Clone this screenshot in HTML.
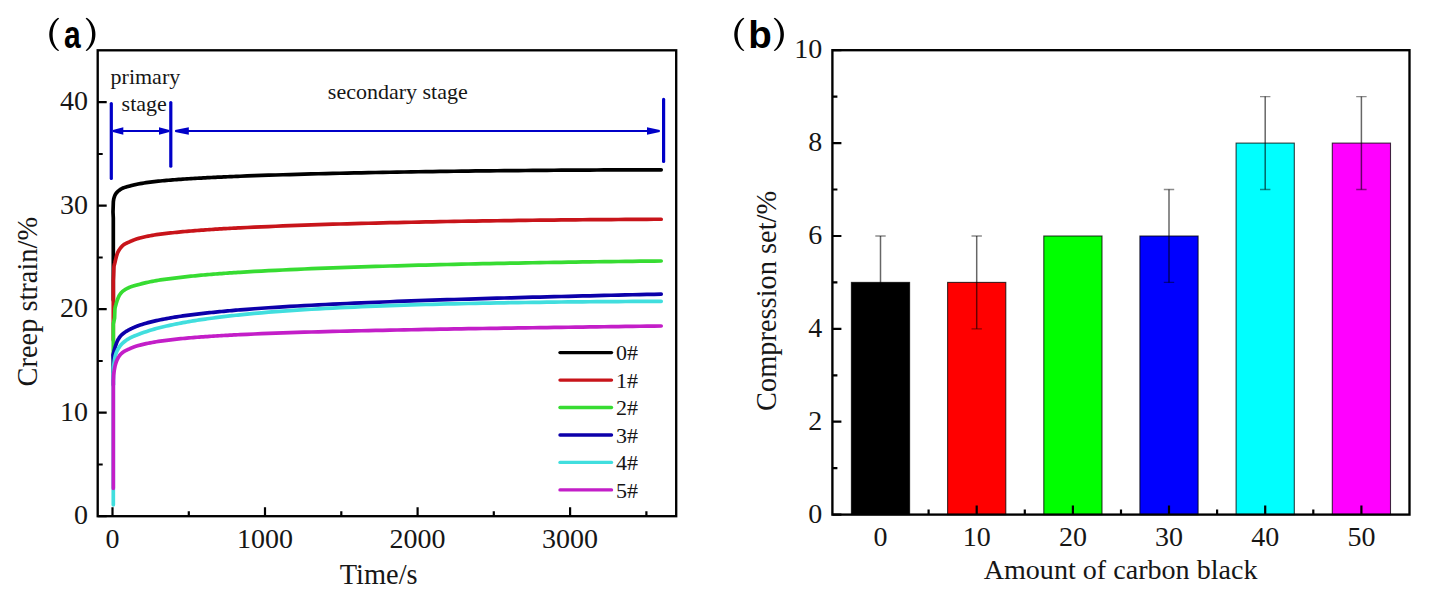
<!DOCTYPE html>
<html><head><meta charset="utf-8"><style>
html,body{margin:0;padding:0;background:#fff;}
body{width:1434px;height:598px;overflow:hidden;}
svg{display:block;}
.serif{font-family:"Liberation Serif",serif;fill:#161616;}
.sans{font-family:"Liberation Sans",sans-serif;fill:#000;}
</style></head><body>
<svg width="1434" height="598" viewBox="0 0 1434 598">
<rect width="1434" height="598" fill="#fff"/>
<path d="M58.00,17.7 C46.40,25.38 46.40,43.42 58.00,51.1 L59.20,50.40 C50.53,43.42 50.53,25.38 59.20,18.40 Z" fill="#000"/>
<path d="M86.80,17.7 C98.40,25.38 98.40,43.42 86.80,51.1 L85.60,50.40 C94.27,43.42 94.27,25.38 85.60,18.40 Z" fill="#000"/>
<text class="sans" transform="translate(72.3,48.0) scale(0.79,1)" x="0" y="0" font-size="38" font-weight="bold" text-anchor="middle">a</text>
<path d="M743.20,17.7 C731.33,25.38 731.33,43.42 743.20,51.1 L744.40,50.40 C735.47,43.42 735.47,25.38 744.40,18.40 Z" fill="#000"/>
<path d="M774.90,17.7 C786.90,25.38 786.90,43.42 774.90,51.1 L773.70,50.40 C782.77,43.42 782.77,25.38 773.70,18.40 Z" fill="#000"/>
<text class="sans" transform="translate(760.0,47.8)" x="0" y="0" font-size="38.5" font-weight="bold" text-anchor="middle">b</text>
<g stroke="#0000C8" stroke-width="3.2" fill="none" stroke-linecap="round">
<line x1="111.3" y1="103.5" x2="111.3" y2="178.5"/>
<line x1="170.8" y1="102.6" x2="170.8" y2="166.2"/>
<line x1="663.6" y1="99.4" x2="663.6" y2="161.4"/>
</g>
<g stroke="#0000C8" stroke-width="2" fill="none">
<line x1="118" y1="131" x2="164" y2="131"/>
<line x1="180" y1="131" x2="652" y2="131"/>
</g>
<path d="M112.9,129.9 L123.3,127.2 L123.3,134.8 L112.9,132.1 Z" fill="#0000C8"/>
<path d="M169.3,129.9 L159.0,127.2 L159.0,134.8 L169.3,132.1 Z" fill="#0000C8"/>
<path d="M175.1,129.9 L188.8,127.2 L188.8,134.8 L175.1,132.1 Z" fill="#0000C8"/>
<path d="M659.8,129.9 L647.0,127.2 L647.0,134.8 L659.8,132.1 Z" fill="#0000C8"/>
<path d="M113.30,300.0 L113.30,218.0 L113.00,212.00 L113.34,201.69 L113.68,199.22 L114.03,197.83 L114.37,196.80 L114.71,195.88 L115.05,195.10 L115.39,194.45 L115.73,193.89 L116.08,193.40 L116.42,192.95 L116.76,192.54 L117.10,192.17 L117.44,191.83 L117.78,191.51 L118.13,191.21 L118.47,190.92 L118.81,190.65 L119.15,190.38 L119.49,190.12 L119.84,189.87 L120.18,189.62 L120.52,189.38 L120.86,189.16 L121.20,188.94 L121.54,188.73 L121.89,188.54 L122.23,188.36 L122.57,188.19 L122.91,188.04 L123.25,187.90 L123.59,187.77 L123.94,187.64 L124.28,187.53 L124.62,187.41 L124.96,187.31 L125.30,187.20 L125.65,187.11 L125.99,187.01 L126.33,186.92 L126.67,186.83 L127.01,186.74 L127.35,186.65 L127.70,186.57 L128.04,186.48 L128.38,186.39 L128.72,186.30 L129.06,186.21 L129.41,186.12 L129.75,186.03 L130.09,185.93 L130.43,185.84 L130.77,185.75 L131.11,185.66 L131.46,185.57 L131.80,185.48 L132.14,185.39 L132.48,185.31 L132.82,185.22 L133.16,185.14 L133.51,185.05 L133.85,184.97 L134.19,184.88 L134.53,184.80 L134.87,184.72 L135.22,184.64 L135.56,184.57 L135.90,184.49 L136.24,184.42 L136.58,184.34 L136.92,184.27 L137.27,184.20 L137.61,184.13 L137.95,184.06 L138.29,183.99 L138.63,183.93 L138.97,183.86 L139.32,183.80 L139.66,183.74 L140.00,183.67 L142.04,183.33 L144.08,183.00 L146.12,182.68 L148.16,182.39 L150.20,182.12 L152.24,181.86 L154.29,181.62 L156.33,181.39 L158.37,181.17 L160.41,180.97 L162.45,180.77 L164.49,180.58 L166.53,180.40 L168.57,180.22 L170.61,180.05 L172.65,179.89 L174.69,179.73 L176.73,179.57 L178.78,179.43 L180.82,179.29 L182.86,179.15 L184.90,179.01 L186.94,178.88 L188.98,178.75 L191.02,178.63 L193.06,178.50 L195.10,178.38 L197.14,178.26 L199.18,178.15 L201.22,178.03 L203.27,177.92 L205.31,177.82 L207.35,177.71 L209.39,177.61 L211.43,177.51 L213.47,177.41 L215.51,177.32 L217.55,177.22 L219.59,177.12 L221.63,177.03 L223.67,176.94 L225.71,176.85 L227.76,176.76 L229.80,176.67 L231.84,176.58 L233.88,176.50 L235.92,176.41 L237.96,176.33 L240.00,176.25 L247.14,175.97 L254.28,175.71 L261.42,175.46 L268.56,175.22 L275.69,174.99 L282.83,174.77 L289.97,174.55 L297.11,174.34 L304.25,174.14 L311.39,173.95 L318.53,173.76 L325.67,173.58 L332.81,173.41 L339.95,173.24 L347.08,173.08 L354.22,172.93 L361.36,172.78 L368.50,172.63 L375.64,172.49 L382.78,172.36 L389.92,172.23 L397.06,172.10 L404.20,171.98 L411.34,171.86 L418.47,171.74 L425.61,171.63 L432.75,171.53 L439.89,171.43 L447.03,171.33 L454.17,171.23 L461.31,171.14 L468.45,171.05 L475.59,170.97 L482.73,170.89 L489.86,170.82 L497.00,170.75 L504.14,170.68 L511.28,170.61 L518.42,170.54 L525.56,170.48 L532.70,170.42 L539.84,170.36 L546.98,170.30 L554.12,170.25 L561.25,170.20 L568.39,170.15 L575.53,170.11 L582.67,170.07 L589.81,170.04 L596.95,170.00 L604.09,169.97 L611.23,169.94 L618.37,169.91 L625.51,169.88 L632.64,169.85 L639.78,169.83 L646.92,169.81 L654.06,169.79 L661.20,169.78" fill="none" stroke="#000000" stroke-width="3.7" stroke-linejoin="round" stroke-linecap="round"/>
<path d="M113.30,340.0 L113.30,281.0 L113.60,275.00 L113.93,266.79 L114.27,264.94 L114.60,263.85 L114.94,262.49 L115.27,261.03 L115.61,259.64 L115.94,258.33 L116.27,257.08 L116.61,255.85 L116.94,254.69 L117.28,253.67 L117.61,252.85 L117.94,252.11 L118.28,251.44 L118.61,250.81 L118.95,250.23 L119.28,249.69 L119.62,249.19 L119.95,248.72 L120.28,248.27 L120.62,247.85 L120.95,247.45 L121.29,247.06 L121.62,246.69 L121.95,246.34 L122.29,246.00 L122.62,245.68 L122.96,245.38 L123.29,245.10 L123.63,244.84 L123.96,244.60 L124.29,244.37 L124.63,244.16 L124.96,243.96 L125.30,243.77 L125.63,243.59 L125.96,243.42 L126.30,243.26 L126.63,243.10 L126.97,242.95 L127.30,242.80 L127.64,242.65 L127.97,242.50 L128.30,242.36 L128.64,242.21 L128.97,242.06 L129.31,241.91 L129.64,241.75 L129.97,241.60 L130.31,241.45 L130.64,241.30 L130.98,241.15 L131.31,241.00 L131.65,240.85 L131.98,240.71 L132.31,240.56 L132.65,240.42 L132.98,240.28 L133.32,240.15 L133.65,240.02 L133.98,239.88 L134.32,239.76 L134.65,239.63 L134.99,239.51 L135.32,239.39 L135.66,239.28 L135.99,239.17 L136.32,239.06 L136.66,238.95 L136.99,238.84 L137.33,238.74 L137.66,238.64 L137.99,238.54 L138.33,238.44 L138.66,238.34 L139.00,238.25 L139.33,238.15 L139.67,238.06 L140.00,237.98 L142.04,237.46 L144.08,236.98 L146.12,236.53 L148.16,236.11 L150.20,235.72 L152.24,235.35 L154.29,235.00 L156.33,234.67 L158.37,234.38 L160.41,234.11 L162.45,233.87 L164.49,233.62 L166.53,233.39 L168.57,233.16 L170.61,232.94 L172.65,232.72 L174.69,232.51 L176.73,232.30 L178.78,232.10 L180.82,231.91 L182.86,231.71 L184.90,231.53 L186.94,231.35 L188.98,231.17 L191.02,231.00 L193.06,230.83 L195.10,230.67 L197.14,230.51 L199.18,230.35 L201.22,230.20 L203.27,230.05 L205.31,229.90 L207.35,229.76 L209.39,229.62 L211.43,229.48 L213.47,229.35 L215.51,229.21 L217.55,229.09 L219.59,228.96 L221.63,228.84 L223.67,228.72 L225.71,228.60 L227.76,228.48 L229.80,228.37 L231.84,228.26 L233.88,228.15 L235.92,228.04 L237.96,227.94 L240.00,227.83 L247.14,227.49 L254.28,227.16 L261.42,226.84 L268.56,226.53 L275.69,226.24 L282.83,225.95 L289.97,225.67 L297.11,225.41 L304.25,225.15 L311.39,224.90 L318.53,224.66 L325.67,224.44 L332.81,224.22 L339.95,224.01 L347.08,223.80 L354.22,223.61 L361.36,223.42 L368.50,223.23 L375.64,223.05 L382.78,222.88 L389.92,222.71 L397.06,222.54 L404.20,222.38 L411.34,222.23 L418.47,222.08 L425.61,221.93 L432.75,221.79 L439.89,221.65 L447.03,221.51 L454.17,221.39 L461.31,221.26 L468.45,221.15 L475.59,221.04 L482.73,220.93 L489.86,220.83 L497.00,220.73 L504.14,220.63 L511.28,220.54 L518.42,220.45 L525.56,220.36 L532.70,220.27 L539.84,220.18 L546.98,220.10 L554.12,220.03 L561.25,219.95 L568.39,219.88 L575.53,219.82 L582.67,219.76 L589.81,219.70 L596.95,219.64 L604.09,219.59 L611.23,219.53 L618.37,219.48 L625.51,219.44 L632.64,219.39 L639.78,219.35 L646.92,219.31 L654.06,219.27 L661.20,219.24" fill="none" stroke="#C8141A" stroke-width="3.7" stroke-linejoin="round" stroke-linecap="round"/>
<path d="M113.30,372.0 L113.30,324.0 L114.60,318.00 L114.92,308.86 L115.24,306.95 L115.56,305.89 L115.89,304.76 L116.21,303.54 L116.53,302.43 L116.85,301.40 L117.17,300.46 L117.49,299.57 L117.82,298.72 L118.14,297.91 L118.46,297.14 L118.78,296.43 L119.10,295.79 L119.42,295.22 L119.74,294.73 L120.07,294.26 L120.39,293.82 L120.71,293.41 L121.03,293.02 L121.35,292.65 L121.67,292.30 L121.99,291.98 L122.32,291.67 L122.64,291.39 L122.96,291.11 L123.28,290.86 L123.60,290.61 L123.92,290.38 L124.25,290.15 L124.57,289.94 L124.89,289.73 L125.21,289.53 L125.53,289.34 L125.85,289.16 L126.17,288.98 L126.50,288.80 L126.82,288.64 L127.14,288.47 L127.46,288.31 L127.78,288.15 L128.10,288.00 L128.43,287.85 L128.75,287.70 L129.07,287.55 L129.39,287.41 L129.71,287.27 L130.03,287.13 L130.35,287.00 L130.68,286.87 L131.00,286.74 L131.32,286.62 L131.64,286.50 L131.96,286.38 L132.28,286.27 L132.61,286.16 L132.93,286.06 L133.25,285.95 L133.57,285.86 L133.89,285.76 L134.21,285.67 L134.53,285.59 L134.86,285.50 L135.18,285.42 L135.50,285.34 L135.82,285.26 L136.14,285.19 L136.46,285.11 L136.78,285.03 L137.11,284.95 L137.43,284.87 L137.75,284.79 L138.07,284.71 L138.39,284.62 L138.71,284.54 L139.04,284.45 L139.36,284.37 L139.68,284.28 L140.00,284.19 L142.04,283.64 L144.08,283.11 L146.12,282.64 L148.16,282.19 L150.20,281.77 L152.24,281.37 L154.29,280.98 L156.33,280.61 L158.37,280.25 L160.41,279.94 L162.45,279.65 L164.49,279.37 L166.53,279.10 L168.57,278.83 L170.61,278.56 L172.65,278.30 L174.69,278.05 L176.73,277.80 L178.78,277.56 L180.82,277.32 L182.86,277.08 L184.90,276.86 L186.94,276.63 L188.98,276.41 L191.02,276.20 L193.06,275.99 L195.10,275.79 L197.14,275.59 L199.18,275.39 L201.22,275.20 L203.27,275.02 L205.31,274.84 L207.35,274.66 L209.39,274.49 L211.43,274.32 L213.47,274.16 L215.51,273.99 L217.55,273.84 L219.59,273.68 L221.63,273.53 L223.67,273.38 L225.71,273.24 L227.76,273.10 L229.80,272.96 L231.84,272.82 L233.88,272.68 L235.92,272.55 L237.96,272.42 L240.00,272.30 L247.14,271.87 L254.28,271.46 L261.42,271.07 L268.56,270.70 L275.69,270.34 L282.83,269.99 L289.97,269.66 L297.11,269.33 L304.25,269.02 L311.39,268.72 L318.53,268.43 L325.67,268.15 L332.81,267.88 L339.95,267.62 L347.08,267.37 L354.22,267.13 L361.36,266.89 L368.50,266.67 L375.64,266.44 L382.78,266.23 L389.92,266.02 L397.06,265.81 L404.20,265.61 L411.34,265.41 L418.47,265.22 L425.61,265.04 L432.75,264.85 L439.89,264.67 L447.03,264.49 L454.17,264.33 L461.31,264.16 L468.45,264.01 L475.59,263.86 L482.73,263.71 L489.86,263.57 L497.00,263.43 L504.14,263.29 L511.28,263.16 L518.42,263.03 L525.56,262.90 L532.70,262.77 L539.84,262.65 L546.98,262.52 L554.12,262.41 L561.25,262.29 L568.39,262.18 L575.53,262.07 L582.67,261.97 L589.81,261.86 L596.95,261.76 L604.09,261.67 L611.23,261.57 L618.37,261.48 L625.51,261.39 L632.64,261.30 L639.78,261.22 L646.92,261.13 L654.06,261.06 L661.20,260.98" fill="none" stroke="#37DC32" stroke-width="3.7" stroke-linejoin="round" stroke-linecap="round"/>
<path d="M113.30,385.0 L113.30,361.0 L113.00,355.00 L113.34,353.66 L113.68,352.35 L114.03,351.09 L114.37,349.86 L114.71,348.65 L115.05,347.47 L115.39,346.34 L115.73,345.29 L116.08,344.31 L116.42,343.36 L116.76,342.44 L117.10,341.59 L117.44,340.81 L117.78,340.13 L118.13,339.52 L118.47,338.94 L118.81,338.39 L119.15,337.87 L119.49,337.38 L119.84,336.91 L120.18,336.47 L120.52,336.06 L120.86,335.67 L121.20,335.30 L121.54,334.96 L121.89,334.63 L122.23,334.32 L122.57,334.02 L122.91,333.73 L123.25,333.46 L123.59,333.20 L123.94,332.95 L124.28,332.71 L124.62,332.47 L124.96,332.24 L125.30,332.01 L125.65,331.79 L125.99,331.57 L126.33,331.35 L126.67,331.14 L127.01,330.93 L127.35,330.73 L127.70,330.53 L128.04,330.34 L128.38,330.15 L128.72,329.97 L129.06,329.79 L129.41,329.61 L129.75,329.43 L130.09,329.26 L130.43,329.08 L130.77,328.91 L131.11,328.75 L131.46,328.58 L131.80,328.42 L132.14,328.25 L132.48,328.09 L132.82,327.94 L133.16,327.78 L133.51,327.63 L133.85,327.48 L134.19,327.33 L134.53,327.18 L134.87,327.04 L135.22,326.89 L135.56,326.75 L135.90,326.61 L136.24,326.47 L136.58,326.34 L136.92,326.21 L137.27,326.07 L137.61,325.95 L137.95,325.82 L138.29,325.69 L138.63,325.57 L138.97,325.45 L139.32,325.33 L139.66,325.21 L140.00,325.10 L142.04,324.44 L144.08,323.81 L146.12,323.21 L148.16,322.64 L150.20,322.10 L152.24,321.59 L154.29,321.10 L156.33,320.64 L158.37,320.19 L160.41,319.77 L162.45,319.36 L164.49,318.96 L166.53,318.58 L168.57,318.21 L170.61,317.86 L172.65,317.51 L174.69,317.18 L176.73,316.86 L178.78,316.54 L180.82,316.24 L182.86,315.94 L184.90,315.65 L186.94,315.37 L188.98,315.10 L191.02,314.83 L193.06,314.56 L195.10,314.31 L197.14,314.06 L199.18,313.82 L201.22,313.59 L203.27,313.37 L205.31,313.14 L207.35,312.93 L209.39,312.71 L211.43,312.50 L213.47,312.29 L215.51,312.08 L217.55,311.88 L219.59,311.68 L221.63,311.48 L223.67,311.29 L225.71,311.10 L227.76,310.91 L229.80,310.73 L231.84,310.55 L233.88,310.37 L235.92,310.19 L237.96,310.02 L240.00,309.85 L247.14,309.29 L254.28,308.75 L261.42,308.24 L268.56,307.75 L275.69,307.29 L282.83,306.85 L289.97,306.42 L297.11,306.01 L304.25,305.61 L311.39,305.23 L318.53,304.86 L325.67,304.50 L332.81,304.16 L339.95,303.82 L347.08,303.50 L354.22,303.18 L361.36,302.88 L368.50,302.58 L375.64,302.29 L382.78,302.00 L389.92,301.73 L397.06,301.46 L404.20,301.19 L411.34,300.94 L418.47,300.68 L425.61,300.44 L432.75,300.19 L439.89,299.96 L447.03,299.72 L454.17,299.50 L461.31,299.27 L468.45,299.05 L475.59,298.83 L482.73,298.62 L489.86,298.41 L497.00,298.21 L504.14,298.00 L511.28,297.80 L518.42,297.61 L525.56,297.41 L532.70,297.22 L539.84,297.03 L546.98,296.85 L554.12,296.66 L561.25,296.48 L568.39,296.30 L575.53,296.12 L582.67,295.95 L589.81,295.78 L596.95,295.61 L604.09,295.44 L611.23,295.27 L618.37,295.10 L625.51,294.93 L632.64,294.77 L639.78,294.61 L646.92,294.45 L654.06,294.29 L661.20,294.14" fill="none" stroke="#0C00AA" stroke-width="3.7" stroke-linejoin="round" stroke-linecap="round"/>
<path d="M113.30,504.8 L113.30,368.0 L114.20,362.00 L114.53,359.91 L114.85,357.98 L115.18,356.31 L115.51,354.98 L115.83,353.93 L116.16,353.01 L116.49,352.20 L116.81,351.47 L117.14,350.80 L117.47,350.17 L117.79,349.55 L118.12,348.97 L118.45,348.41 L118.77,347.88 L119.10,347.37 L119.43,346.89 L119.75,346.43 L120.08,345.99 L120.41,345.58 L120.73,345.18 L121.06,344.80 L121.38,344.44 L121.71,344.09 L122.04,343.76 L122.36,343.44 L122.69,343.13 L123.02,342.83 L123.34,342.54 L123.67,342.26 L124.00,341.98 L124.32,341.72 L124.65,341.46 L124.98,341.21 L125.30,340.96 L125.63,340.72 L125.96,340.49 L126.28,340.26 L126.61,340.04 L126.94,339.82 L127.26,339.61 L127.59,339.40 L127.92,339.20 L128.24,339.00 L128.57,338.81 L128.90,338.62 L129.22,338.43 L129.55,338.25 L129.88,338.07 L130.20,337.90 L130.53,337.73 L130.86,337.56 L131.18,337.40 L131.51,337.24 L131.84,337.08 L132.16,336.93 L132.49,336.78 L132.82,336.63 L133.14,336.48 L133.47,336.34 L133.79,336.20 L134.12,336.06 L134.45,335.93 L134.77,335.80 L135.10,335.67 L135.43,335.54 L135.75,335.41 L136.08,335.29 L136.41,335.16 L136.73,335.04 L137.06,334.92 L137.39,334.80 L137.71,334.67 L138.04,334.55 L138.37,334.43 L138.69,334.31 L139.02,334.19 L139.35,334.07 L139.67,333.95 L140.00,333.83 L142.04,333.08 L144.08,332.36 L146.12,331.65 L148.16,330.97 L150.20,330.33 L152.24,329.72 L154.29,329.14 L156.33,328.58 L158.37,328.04 L160.41,327.52 L162.45,327.01 L164.49,326.52 L166.53,326.04 L168.57,325.58 L170.61,325.13 L172.65,324.70 L174.69,324.27 L176.73,323.86 L178.78,323.46 L180.82,323.07 L182.86,322.69 L184.90,322.32 L186.94,321.95 L188.98,321.60 L191.02,321.25 L193.06,320.91 L195.10,320.58 L197.14,320.25 L199.18,319.94 L201.22,319.65 L203.27,319.36 L205.31,319.07 L207.35,318.79 L209.39,318.51 L211.43,318.24 L213.47,317.97 L215.51,317.70 L217.55,317.44 L219.59,317.18 L221.63,316.92 L223.67,316.67 L225.71,316.42 L227.76,316.18 L229.80,315.95 L231.84,315.71 L233.88,315.49 L235.92,315.26 L237.96,315.04 L240.00,314.83 L247.14,314.12 L254.28,313.44 L261.42,312.81 L268.56,312.21 L275.69,311.64 L282.83,311.12 L289.97,310.61 L297.11,310.13 L304.25,309.67 L311.39,309.24 L318.53,308.82 L325.67,308.43 L332.81,308.06 L339.95,307.70 L347.08,307.36 L354.22,307.04 L361.36,306.73 L368.50,306.44 L375.64,306.16 L382.78,305.89 L389.92,305.64 L397.06,305.39 L404.20,305.16 L411.34,304.94 L418.47,304.72 L425.61,304.52 L432.75,304.33 L439.89,304.14 L447.03,303.97 L454.17,303.80 L461.31,303.63 L468.45,303.48 L475.59,303.33 L482.73,303.19 L489.86,303.06 L497.00,302.93 L504.14,302.81 L511.28,302.69 L518.42,302.58 L525.56,302.48 L532.70,302.38 L539.84,302.28 L546.98,302.19 L554.12,302.11 L561.25,302.02 L568.39,301.95 L575.53,301.88 L582.67,301.81 L589.81,301.75 L596.95,301.69 L604.09,301.63 L611.23,301.58 L618.37,301.53 L625.51,301.48 L632.64,301.43 L639.78,301.39 L646.92,301.35 L654.06,301.31 L661.20,301.28" fill="none" stroke="#41DEDE" stroke-width="3.7" stroke-linejoin="round" stroke-linecap="round"/>
<path d="M113.30,488.3 L113.30,381.0 L113.60,375.00 L113.93,372.49 L114.27,370.29 L114.60,368.38 L114.94,366.66 L115.27,365.21 L115.61,364.00 L115.94,362.90 L116.27,361.91 L116.61,361.03 L116.94,360.23 L117.28,359.50 L117.61,358.81 L117.94,358.16 L118.28,357.54 L118.61,356.96 L118.95,356.43 L119.28,355.93 L119.62,355.47 L119.95,355.06 L120.28,354.68 L120.62,354.32 L120.95,353.98 L121.29,353.66 L121.62,353.35 L121.95,353.06 L122.29,352.79 L122.62,352.53 L122.96,352.28 L123.29,352.04 L123.63,351.81 L123.96,351.59 L124.29,351.38 L124.63,351.18 L124.96,350.98 L125.30,350.80 L125.63,350.62 L125.96,350.45 L126.30,350.28 L126.63,350.12 L126.97,349.96 L127.30,349.81 L127.64,349.66 L127.97,349.51 L128.30,349.36 L128.64,349.21 L128.97,349.06 L129.31,348.91 L129.64,348.75 L129.97,348.60 L130.31,348.45 L130.64,348.31 L130.98,348.16 L131.31,348.01 L131.65,347.87 L131.98,347.73 L132.31,347.59 L132.65,347.45 L132.98,347.31 L133.32,347.18 L133.65,347.06 L133.98,346.93 L134.32,346.81 L134.65,346.69 L134.99,346.58 L135.32,346.47 L135.66,346.36 L135.99,346.25 L136.32,346.14 L136.66,346.04 L136.99,345.94 L137.33,345.84 L137.66,345.74 L137.99,345.65 L138.33,345.55 L138.66,345.46 L139.00,345.37 L139.33,345.28 L139.67,345.19 L140.00,345.11 L142.04,344.59 L144.08,344.11 L146.12,343.66 L148.16,343.23 L150.20,342.83 L152.24,342.46 L154.29,342.10 L156.33,341.77 L158.37,341.45 L160.41,341.14 L162.45,340.85 L164.49,340.57 L166.53,340.30 L168.57,340.05 L170.61,339.80 L172.65,339.56 L174.69,339.34 L176.73,339.12 L178.78,338.90 L180.82,338.70 L182.86,338.50 L184.90,338.30 L186.94,338.12 L188.98,337.94 L191.02,337.76 L193.06,337.59 L195.10,337.42 L197.14,337.26 L199.18,337.10 L201.22,336.96 L203.27,336.82 L205.31,336.68 L207.35,336.54 L209.39,336.40 L211.43,336.27 L213.47,336.14 L215.51,336.01 L217.55,335.89 L219.59,335.76 L221.63,335.64 L223.67,335.52 L225.71,335.40 L227.76,335.29 L229.80,335.17 L231.84,335.06 L233.88,334.96 L235.92,334.85 L237.96,334.75 L240.00,334.65 L247.14,334.31 L254.28,333.99 L261.42,333.70 L268.56,333.42 L275.69,333.16 L282.83,332.91 L289.97,332.67 L297.11,332.44 L304.25,332.22 L311.39,332.01 L318.53,331.81 L325.67,331.61 L332.81,331.43 L339.95,331.25 L347.08,331.08 L354.22,330.91 L361.36,330.75 L368.50,330.59 L375.64,330.44 L382.78,330.29 L389.92,330.15 L397.06,330.01 L404.20,329.87 L411.34,329.73 L418.47,329.60 L425.61,329.46 L432.75,329.33 L439.89,329.20 L447.03,329.08 L454.17,328.96 L461.31,328.84 L468.45,328.72 L475.59,328.61 L482.73,328.50 L489.86,328.39 L497.00,328.28 L504.14,328.17 L511.28,328.06 L518.42,327.95 L525.56,327.85 L532.70,327.74 L539.84,327.64 L546.98,327.54 L554.12,327.44 L561.25,327.33 L568.39,327.23 L575.53,327.13 L582.67,327.03 L589.81,326.93 L596.95,326.84 L604.09,326.74 L611.23,326.64 L618.37,326.54 L625.51,326.45 L632.64,326.35 L639.78,326.26 L646.92,326.17 L654.06,326.07 L661.20,325.98" fill="none" stroke="#C31EC8" stroke-width="3.7" stroke-linejoin="round" stroke-linecap="round"/>
<line x1="560" y1="352.6" x2="611.5" y2="352.6" stroke="#000000" stroke-width="3.4" stroke-linecap="round"/>
<text class="serif" x="616" y="360.2" font-size="22">0#</text>
<line x1="560" y1="380.1" x2="611.5" y2="380.1" stroke="#C8141A" stroke-width="3.4" stroke-linecap="round"/>
<text class="serif" x="616" y="387.7" font-size="22">1#</text>
<line x1="560" y1="407.5" x2="611.5" y2="407.5" stroke="#37DC32" stroke-width="3.4" stroke-linecap="round"/>
<text class="serif" x="616" y="415.1" font-size="22">2#</text>
<line x1="560" y1="435.0" x2="611.5" y2="435.0" stroke="#0C00AA" stroke-width="3.4" stroke-linecap="round"/>
<text class="serif" x="616" y="442.6" font-size="22">3#</text>
<line x1="560" y1="462.4" x2="611.5" y2="462.4" stroke="#41DEDE" stroke-width="3.4" stroke-linecap="round"/>
<text class="serif" x="616" y="470.0" font-size="22">4#</text>
<line x1="560" y1="489.9" x2="611.5" y2="489.9" stroke="#C31EC8" stroke-width="3.4" stroke-linecap="round"/>
<text class="serif" x="616" y="497.5" font-size="22">5#</text>
<rect x="97.7" y="50.3" width="578.5" height="465.9" fill="none" stroke="#000" stroke-width="2.35"/>
<path d="M97.7,516.2h9 M97.7,464.5h5 M97.7,412.7h9 M97.7,361.0h5 M97.7,309.2h9 M97.7,257.5h5 M97.7,205.7h9 M97.7,154.0h5 M97.7,102.2h9 M112.5,516.2v-9 M188.8,516.2v-5 M265.0,516.2v-9 M341.3,516.2v-5 M417.6,516.2v-9 M493.8,516.2v-5 M570.1,516.2v-9 M646.4,516.2v-5" stroke="#000" stroke-width="2.2" fill="none"/>
<text class="serif" x="87.9" y="524.4" font-size="28" text-anchor="end">0</text>
<text class="serif" x="87.9" y="420.9" font-size="28" text-anchor="end">10</text>
<text class="serif" x="87.9" y="317.4" font-size="28" text-anchor="end">20</text>
<text class="serif" x="87.9" y="213.9" font-size="28" text-anchor="end">30</text>
<text class="serif" x="87.9" y="110.4" font-size="28" text-anchor="end">40</text>
<text class="serif" x="112.5" y="548" font-size="28" text-anchor="middle">0</text>
<text class="serif" x="265.0" y="548" font-size="28" text-anchor="middle">1000</text>
<text class="serif" x="417.6" y="548" font-size="28" text-anchor="middle">2000</text>
<text class="serif" x="570.1" y="548" font-size="28" text-anchor="middle">3000</text>
<text class="serif" x="378.7" y="583.9" font-size="28.4" text-anchor="middle">Time/s</text>
<text class="serif" transform="translate(37.0,301.7) rotate(-90)" x="0" y="0" font-size="28.4" text-anchor="middle">Creep strain/%</text>
<text class="serif" x="145.4" y="83.6" font-size="22" text-anchor="middle">primary</text>
<text class="serif" x="144.2" y="110.9" font-size="22" text-anchor="middle">stage</text>
<text class="serif" x="397.8" y="98.9" font-size="22" text-anchor="middle">secondary stage</text>
<rect x="851.4" y="282.4" width="58.2" height="232.2" fill="#000000" stroke="#000" stroke-opacity="0.75" stroke-width="1.1"/>
<rect x="947.6" y="282.4" width="58.2" height="232.2" fill="#FF0000" stroke="#000" stroke-opacity="0.75" stroke-width="1.1"/>
<rect x="1043.8" y="236.0" width="58.2" height="278.6" fill="#00FF00" stroke="#000" stroke-opacity="0.75" stroke-width="1.1"/>
<rect x="1139.9" y="236.0" width="58.2" height="278.6" fill="#0000FF" stroke="#000" stroke-opacity="0.75" stroke-width="1.1"/>
<rect x="1236.1" y="143.1" width="58.2" height="371.5" fill="#00FFFF" stroke="#000" stroke-opacity="0.75" stroke-width="1.1"/>
<rect x="1332.3" y="143.1" width="58.2" height="371.5" fill="#FF00FF" stroke="#000" stroke-opacity="0.75" stroke-width="1.1"/>
<path d="M880.5,328.8V236.0" stroke="#000" stroke-opacity="0.6" stroke-width="1.5" fill="none"/>
<path d="M875.3,236.0h10.4M875.3,328.8h10.4" stroke="#000" stroke-opacity="0.45" stroke-width="1.3" fill="none"/>
<path d="M976.7,328.8V236.0" stroke="#000" stroke-opacity="0.6" stroke-width="1.5" fill="none"/>
<path d="M971.5,236.0h10.4M971.5,328.8h10.4" stroke="#000" stroke-opacity="0.45" stroke-width="1.3" fill="none"/>
<path d="M1169.0,282.4V189.5" stroke="#000" stroke-opacity="0.6" stroke-width="1.5" fill="none"/>
<path d="M1163.8,189.5h10.4M1163.8,282.4h10.4" stroke="#000" stroke-opacity="0.45" stroke-width="1.3" fill="none"/>
<path d="M1265.2,189.5V96.6" stroke="#000" stroke-opacity="0.6" stroke-width="1.5" fill="none"/>
<path d="M1260.0,96.6h10.4M1260.0,189.5h10.4" stroke="#000" stroke-opacity="0.45" stroke-width="1.3" fill="none"/>
<path d="M1361.4,189.5V96.6" stroke="#000" stroke-opacity="0.6" stroke-width="1.5" fill="none"/>
<path d="M1356.2,96.6h10.4M1356.2,189.5h10.4" stroke="#000" stroke-opacity="0.45" stroke-width="1.3" fill="none"/>
<rect x="832.4" y="50.2" width="577.1" height="464.4" fill="none" stroke="#000" stroke-width="2.35"/>
<path d="M832.4,514.6h9 M832.4,468.2h5 M832.4,421.7h9 M832.4,375.3h5 M832.4,328.8h9 M832.4,282.4h5 M832.4,236.0h9 M832.4,189.5h5 M832.4,143.1h9 M832.4,96.6h5 M832.4,50.2h9 M880.5,514.6v-9 M928.6,514.6v-5 M976.7,514.6v-9 M1024.8,514.6v-5 M1072.9,514.6v-9 M1121.0,514.6v-5 M1169.0,514.6v-9 M1217.1,514.6v-5 M1265.2,514.6v-9 M1313.3,514.6v-5 M1361.4,514.6v-9" stroke="#000" stroke-width="2.2" fill="none"/>
<text class="serif" x="822.2" y="522.5" font-size="28" text-anchor="end">0</text>
<text class="serif" x="822.2" y="429.6" font-size="28" text-anchor="end">2</text>
<text class="serif" x="822.2" y="336.7" font-size="28" text-anchor="end">4</text>
<text class="serif" x="822.2" y="243.9" font-size="28" text-anchor="end">6</text>
<text class="serif" x="822.2" y="151.0" font-size="28" text-anchor="end">8</text>
<text class="serif" x="822.2" y="58.1" font-size="28" text-anchor="end">10</text>
<text class="serif" x="880.5" y="545.7" font-size="28" text-anchor="middle">0</text>
<text class="serif" x="976.7" y="545.7" font-size="28" text-anchor="middle">10</text>
<text class="serif" x="1072.9" y="545.7" font-size="28" text-anchor="middle">20</text>
<text class="serif" x="1169.0" y="545.7" font-size="28" text-anchor="middle">30</text>
<text class="serif" x="1265.2" y="545.7" font-size="28" text-anchor="middle">40</text>
<text class="serif" x="1361.4" y="545.7" font-size="28" text-anchor="middle">50</text>
<text class="serif" x="1120.6" y="578.7" font-size="28.1" text-anchor="middle">Amount of carbon black</text>
<text class="serif" transform="translate(775.8,300.9) rotate(-90)" x="0" y="0" font-size="28.4" text-anchor="middle">Compression set/%</text>
</svg></body></html>
